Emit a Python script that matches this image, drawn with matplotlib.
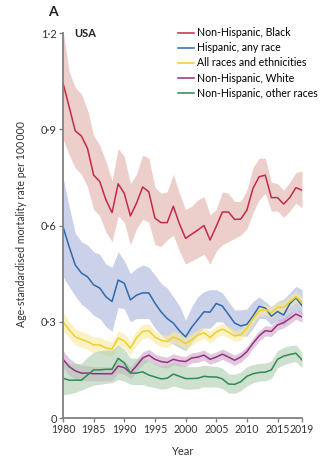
import matplotlib
matplotlib.use("Agg")
import matplotlib.pyplot as plt
from matplotlib.ticker import FuncFormatter

plt.rcParams["font.family"] = ["Lato", "DejaVu Sans"]

years = list(range(1980, 2020))

black = [1.044, 0.97, 0.895, 0.879, 0.84, 0.757, 0.737, 0.68, 0.64, 0.73,
         0.70, 0.63, 0.67, 0.72, 0.705, 0.623, 0.609, 0.609, 0.66, 0.605,
         0.56, 0.573, 0.586, 0.60, 0.555, 0.597, 0.642, 0.642, 0.619, 0.62,
         0.648, 0.716, 0.752, 0.757, 0.687, 0.687, 0.667, 0.687, 0.718, 0.71]
black_hi = [1.21, 1.08, 1.03, 1.01, 0.96, 0.88, 0.85, 0.80, 0.74, 0.84,
            0.815, 0.73, 0.76, 0.82, 0.81, 0.72, 0.70, 0.705, 0.76, 0.70,
            0.65, 0.66, 0.68, 0.69, 0.633, 0.65, 0.705, 0.70, 0.675, 0.675,
            0.71, 0.78, 0.81, 0.81, 0.735, 0.73, 0.71, 0.735, 0.765, 0.77]
black_lo = [0.87, 0.82, 0.78, 0.76, 0.72, 0.65, 0.63, 0.58, 0.55, 0.63,
            0.61, 0.54, 0.59, 0.62, 0.61, 0.54, 0.535, 0.555, 0.57, 0.52,
            0.48, 0.49, 0.50, 0.51, 0.48, 0.52, 0.54, 0.55, 0.56, 0.57,
            0.59, 0.64, 0.68, 0.70, 0.645, 0.645, 0.625, 0.645, 0.67, 0.655]

hisp = [0.596, 0.534, 0.477, 0.452, 0.44, 0.415, 0.405, 0.378, 0.363, 0.43,
        0.42, 0.368, 0.383, 0.39, 0.39, 0.358, 0.331, 0.31, 0.296, 0.272,
        0.253, 0.283, 0.307, 0.331, 0.33, 0.357, 0.349, 0.323, 0.296, 0.287,
        0.292, 0.318, 0.348, 0.343, 0.317, 0.332, 0.321, 0.356, 0.375, 0.35]
hisp_hi = [0.75, 0.66, 0.576, 0.55, 0.54, 0.518, 0.51, 0.48, 0.47, 0.518,
           0.49, 0.45, 0.467, 0.477, 0.47, 0.446, 0.42, 0.405, 0.378, 0.35,
           0.305, 0.347, 0.378, 0.394, 0.40, 0.40, 0.39, 0.363, 0.337, 0.337,
           0.34, 0.363, 0.378, 0.363, 0.347, 0.363, 0.37, 0.39, 0.41, 0.40]
hisp_lo = [0.44, 0.41, 0.38, 0.355, 0.34, 0.32, 0.31, 0.285, 0.27, 0.345,
           0.34, 0.30, 0.31, 0.31, 0.31, 0.28, 0.26, 0.24, 0.23, 0.22,
           0.21, 0.235, 0.26, 0.28, 0.28, 0.30, 0.30, 0.28, 0.26, 0.255,
           0.255, 0.28, 0.31, 0.31, 0.29, 0.305, 0.29, 0.32, 0.34, 0.32]

allr = [0.30, 0.275, 0.253, 0.245, 0.238, 0.228, 0.228, 0.218, 0.215, 0.249,
        0.24, 0.218, 0.25, 0.27, 0.272, 0.252, 0.242, 0.238, 0.253, 0.244,
        0.232, 0.244, 0.258, 0.266, 0.251, 0.268, 0.277, 0.268, 0.256, 0.259,
        0.28, 0.31, 0.334, 0.338, 0.328, 0.345, 0.345, 0.362, 0.378, 0.36]
allr_hi = [0.33, 0.30, 0.278, 0.27, 0.262, 0.252, 0.252, 0.242, 0.238, 0.272,
           0.262, 0.24, 0.272, 0.292, 0.293, 0.272, 0.262, 0.257, 0.272, 0.263,
           0.25, 0.262, 0.276, 0.284, 0.269, 0.286, 0.295, 0.286, 0.273, 0.276,
           0.297, 0.327, 0.351, 0.355, 0.345, 0.362, 0.362, 0.38, 0.396, 0.378]
allr_lo = [0.27, 0.25, 0.228, 0.22, 0.214, 0.204, 0.204, 0.194, 0.192, 0.226,
           0.218, 0.196, 0.228, 0.248, 0.251, 0.232, 0.222, 0.219, 0.234, 0.225,
           0.214, 0.226, 0.24, 0.248, 0.233, 0.25, 0.259, 0.25, 0.239, 0.242,
           0.263, 0.293, 0.317, 0.321, 0.311, 0.328, 0.328, 0.344, 0.36, 0.342]

white = [0.183, 0.16, 0.147, 0.14, 0.14, 0.138, 0.138, 0.138, 0.138, 0.162,
         0.157, 0.141, 0.163, 0.187, 0.196, 0.183, 0.176, 0.173, 0.183, 0.178,
         0.176, 0.187, 0.19, 0.196, 0.183, 0.19, 0.199, 0.19, 0.18, 0.19,
         0.207, 0.233, 0.256, 0.272, 0.27, 0.29, 0.297, 0.31, 0.324, 0.315]
white_hi = [0.21, 0.186, 0.172, 0.164, 0.163, 0.16, 0.16, 0.16, 0.159, 0.183,
            0.177, 0.16, 0.182, 0.206, 0.214, 0.2, 0.193, 0.19, 0.2, 0.194,
            0.192, 0.203, 0.206, 0.212, 0.199, 0.206, 0.215, 0.206, 0.196, 0.206,
            0.223, 0.249, 0.272, 0.288, 0.286, 0.306, 0.313, 0.326, 0.34, 0.331]
white_lo = [0.156, 0.134, 0.122, 0.116, 0.117, 0.116, 0.116, 0.116, 0.117, 0.141,
            0.137, 0.122, 0.144, 0.168, 0.178, 0.166, 0.159, 0.156, 0.166, 0.162,
            0.16, 0.171, 0.174, 0.18, 0.167, 0.174, 0.183, 0.174, 0.164, 0.174,
            0.191, 0.217, 0.24, 0.256, 0.254, 0.274, 0.281, 0.294, 0.308, 0.299]

other = [0.124, 0.118, 0.118, 0.118, 0.134, 0.15, 0.15, 0.152, 0.152, 0.186,
         0.172, 0.14, 0.14, 0.144, 0.134, 0.128, 0.122, 0.124, 0.137, 0.13,
         0.123, 0.123, 0.124, 0.13, 0.128, 0.128, 0.122, 0.106, 0.105, 0.113,
         0.13, 0.138, 0.142, 0.143, 0.15, 0.183, 0.193, 0.198, 0.202, 0.181]
other_hi = [0.175, 0.17, 0.17, 0.17, 0.19, 0.205, 0.21, 0.212, 0.212, 0.228,
            0.215, 0.187, 0.186, 0.188, 0.178, 0.17, 0.164, 0.165, 0.176, 0.168,
            0.16, 0.16, 0.16, 0.165, 0.162, 0.161, 0.155, 0.138, 0.136, 0.143,
            0.16, 0.167, 0.17, 0.171, 0.178, 0.21, 0.22, 0.225, 0.228, 0.205]
other_lo = [0.072, 0.075, 0.08, 0.087, 0.095, 0.103, 0.105, 0.108, 0.11, 0.12,
            0.115, 0.105, 0.104, 0.104, 0.098, 0.095, 0.09, 0.092, 0.1, 0.095,
            0.09, 0.09, 0.092, 0.097, 0.096, 0.097, 0.092, 0.078, 0.077, 0.085,
            0.1, 0.11, 0.115, 0.116, 0.123, 0.156, 0.166, 0.172, 0.176, 0.157]

labels = ["Non-Hispanic, Black", "Hispanic, any race", "All races and ethnicities",
          "Non-Hispanic, White", "Non-Hispanic, other races"]
line_colors = ["#c42a4a", "#2f6aab", "#f0d02a", "#962f86", "#2e8a57"]
band_colors = ["#e1b0aa", "#abb5db", "#f8eaa0", "#cfa8c9", "#b0cdb0"]

series = [(black, black_lo, black_hi), (hisp, hisp_lo, hisp_hi),
          (allr, allr_lo, allr_hi), (white, white_lo, white_hi),
          (other, other_lo, other_hi)]

fig = plt.figure(figsize=(3.29, 4.62), dpi=100)
ax = fig.add_axes([0.1915, 0.0952, 0.7265, 0.8403])

for (mid, lo, hi), bc in zip(series, band_colors):
    ax.fill_between(years, lo, hi, color=bc, alpha=0.62, lw=0)
for (mid, lo, hi), lc, lab in zip(series, line_colors, labels):
    ax.plot(years, mid, color=lc, lw=1.1, label=lab)

ax.set_xlim(1980, 2019)
ax.set_ylim(0, 1.21)
ax.set_xticks([1980, 1985, 1990, 1995, 2000, 2005, 2010, 2015, 2019])
ax.set_yticks([0, 0.3, 0.6, 0.9, 1.2])
ax.yaxis.set_major_formatter(FuncFormatter(
    lambda v, p: "0" if v == 0 else f"{v:.1f}".replace(".", "\u00b7")))

for s in ["top", "right"]:
    ax.spines[s].set_visible(False)
for s in ["left", "bottom"]:
    ax.spines[s].set_color("#808080")
    ax.spines[s].set_linewidth(1.3)
ax.spines["left"].set_bounds(0, 1.2)
ax.tick_params(colors="#808080", length=3, width=1, labelcolor="#333333",
               labelsize=8, pad=1.5)
ax.tick_params(axis="x", labelsize=7.6)

ax.set_xlabel("Year", fontsize=8, color="#333333", labelpad=8)
ax.set_ylabel("Age-standardised mortality rate per 100\u2009000",
              fontsize=7.6, color="#333333", labelpad=10)
ax.text(1981.8, 1.2, "USA", fontsize=8, fontweight="bold", va="center",
        color="#222222")
fig.text(0.145, 0.975, "A", fontsize=10, fontweight="bold", va="center",
         color="#222222")

ax.legend(loc="upper left", bbox_to_anchor=(0.48, 1.006), frameon=False,
          fontsize=7.6, handlelength=1.5, handletextpad=0.35,
          labelspacing=0.38, borderpad=0, borderaxespad=0)

fig.savefig("out.png", dpi=100)
